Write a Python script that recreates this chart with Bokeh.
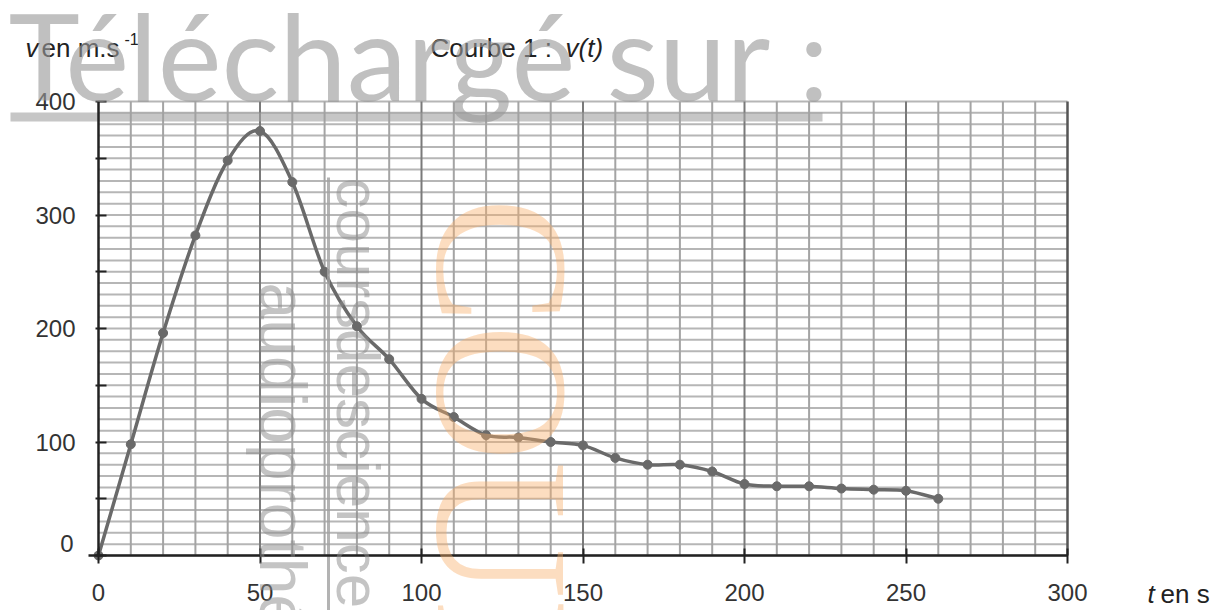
import numpy as np
from bokeh.plotting import figure
from bokeh.models import Range1d, FixedTicker, Label
from bokeh.embed import file_html
from bokeh.resources import INLINE

# ---------------- data ----------------
t_s = [0, 10, 20, 30, 40, 50, 60, 70, 80, 90, 100, 110, 120, 130, 140,
       150, 160, 170, 180, 190, 200, 210, 220, 230, 240, 250, 260]
v_ms = [0, 98, 196, 282, 348, 374, 329, 250, 202, 173, 138, 122, 106, 104, 100,
        97, 86, 80, 80, 74, 63, 61, 61, 59, 58, 57, 50]

x_ticks = [0, 50, 100, 150, 200, 250, 300]
y_ticks = [0, 50, 100, 150, 200, 250, 300, 350, 400]
y_tick_labels = ["", "", "100", "", "200", "", "300", "", "400"]
grid_step = 10

x_label = ("t", "en s")
y_label = ("v", "en m.s", "-1")
title_parts = ("Courbe 1 : ", "v(t)")
watermark_top = "Téléchargé sur :"
watermark_a = "audioprothésiste"
watermark_b = "coursdesciences"
watermark_c = "COUR"

# ---------------- layout ----------------
W, H = 1226, 610
LEFT, RIGHT, TOP, BOTTOM = 98, 1067, 101, 555   # pixel position of the graph box
XMAX, YMAX = 300, 400


def dx(px):
    return (px - LEFT) * XMAX / (RIGHT - LEFT)


def dy(py):
    return (BOTTOM - py) * YMAX / (BOTTOM - TOP)


# the frame covers the whole page so that texts outside the graph box are not clipped
p = figure(width=W, height=H, x_range=Range1d(dx(0), dx(W)), y_range=Range1d(dy(H), dy(0)),
           output_backend="svg", toolbar_location=None,
           min_border_left=0, min_border_right=0, min_border_top=0, min_border_bottom=0)
p.outline_line_color = None
p.background_fill_color = "white"
p.border_fill_color = "white"
p.xgrid.visible = False
p.ygrid.visible = False

# ---------------- graph paper ----------------
gx = np.arange(0, XMAX + 1, grid_step)
gy = np.arange(0, YMAX + 1, grid_step)
p.segment(x0=np.zeros(len(gy)), y0=gy, x1=np.full(len(gy), XMAX), y1=gy,
          line_color="#b6b6b6", line_width=2)
minor_x = [v for v in gx if v % 50 != 0]
p.segment(x0=minor_x, y0=[0] * len(minor_x), x1=minor_x, y1=[YMAX] * len(minor_x),
          line_color="#a4a4a4", line_width=2)
major_x = x_ticks[1:-1]
p.segment(x0=major_x, y0=[0] * len(major_x), x1=major_x, y1=[YMAX] * len(major_x),
          line_color="#7a7a7a", line_width=2)
p.segment(x0=[XMAX], y0=[0], x1=[XMAX], y1=[YMAX], line_color="#555555", line_width=2.5)

# ---------------- axes (fixed inside the page frame) ----------------
for ax in (p.xaxis, p.yaxis):
    ax.axis_line_color = "#222222"
    ax.axis_line_width = 2.5
    ax.major_tick_line_color = "#222222"
    ax.major_tick_line_width = 2
    ax.minor_tick_line_color = None
    ax.major_label_text_font = "Liberation Sans"
    ax.major_label_text_font_size = "24px"
    ax.major_label_text_color = "#333333"

p.xaxis.fixed_location = 0
p.xaxis.bounds = (dx(88), XMAX)
p.xaxis.ticker = FixedTicker(ticks=x_ticks)
p.xaxis.major_tick_in = 7
p.xaxis.major_tick_out = 8
p.xaxis.major_label_standoff = 20

p.yaxis.fixed_location = 0
p.yaxis.bounds = (0, YMAX)
p.yaxis.ticker = FixedTicker(ticks=y_ticks)
p.yaxis.major_label_overrides = {k: v for k, v in zip(y_ticks, y_tick_labels)}
p.yaxis.major_tick_in = 8
p.yaxis.major_tick_out = 3
p.yaxis.major_label_standoff = 20

# ---------------- data curve (smoothed through the measured points) ----------------
x = np.array(t_s, dtype=float)
y = np.array(v_ms, dtype=float)
xp = np.concatenate([[x[0]], x, [x[-1]]])
yp = np.concatenate([[y[0]], y, [y[-1]]])
n = len(x)
cx0 = x[:-1] + (xp[2:n + 1] - xp[0:n - 1]) / 6.0
cy0 = y[:-1] + (yp[2:n + 1] - yp[0:n - 1]) / 6.0
cx1 = x[1:] - (xp[3:n + 2] - xp[1:n]) / 6.0
cy1 = y[1:] - (yp[3:n + 2] - yp[1:n]) / 6.0
p.bezier(x0=x[:-1], y0=y[:-1], x1=x[1:], y1=y[1:],
         cx0=cx0, cy0=cy0, cx1=cx1, cy1=cy1,
         line_color="#6a6a6a", line_width=3.5)
p.scatter(x, y, size=9, marker="circle", color="#6a6a6a")


# ---------------- texts ----------------
def lab(text, px, py, size, font="Liberation Sans", style="normal", color="#222222",
        align="left", baseline="middle", angle=0.0, alpha=1.0):
    p.add_layout(Label(x=dx(px), y=dy(py), text=text, text_font=font,
                       text_font_size=f"{size}px", text_font_style=style,
                       text_color=color, text_alpha=alpha, text_align=align,
                       text_baseline=baseline, angle=angle))


# y tick label "0" sits slightly above its tick in the original
lab("0", 73, 543, 24, color="#333333", align="right")

lab(y_label[0], 25, 47, 26, style="italic")
lab(y_label[1], 41, 47, 26)
lab(y_label[2], 124, 38, 16)

lab(title_parts[0], 430, 47, 26)
lab(title_parts[1], 565, 47, 26, style="italic")

lab(x_label[0], 1147, 593, 26, style="italic")
lab(x_label[1], 1160, 593, 26)

# ---------------- watermarks ----------------
p.quad(left=dx(10), right=dx(822), bottom=dy(121), top=dy(112),
       fill_color="#a0a0a0", fill_alpha=0.6, line_color=None)
p.segment(x0=[dx(328)], y0=[dy(177)], x1=[dx(328)], y1=[dy(620)],
          line_color="#a0a0a0", line_alpha=0.8, line_width=3)
lab(watermark_top, 8, 54, 121, font="Lato", color="#9a9a9a", alpha=0.62)
lab(watermark_a, 282, 282, 66, color="#8a8a8a", alpha=0.5, angle=-np.pi / 2)
lab(watermark_b, 358, 177, 62, color="#8a8a8a", alpha=0.5, angle=-np.pi / 2)
lab(watermark_c, 501, 197, 190, font="Liberation Serif", color="#f7ae68",
    alpha=0.42, angle=-np.pi / 2)

open("out.html", "w").write(file_html(p, INLINE))
